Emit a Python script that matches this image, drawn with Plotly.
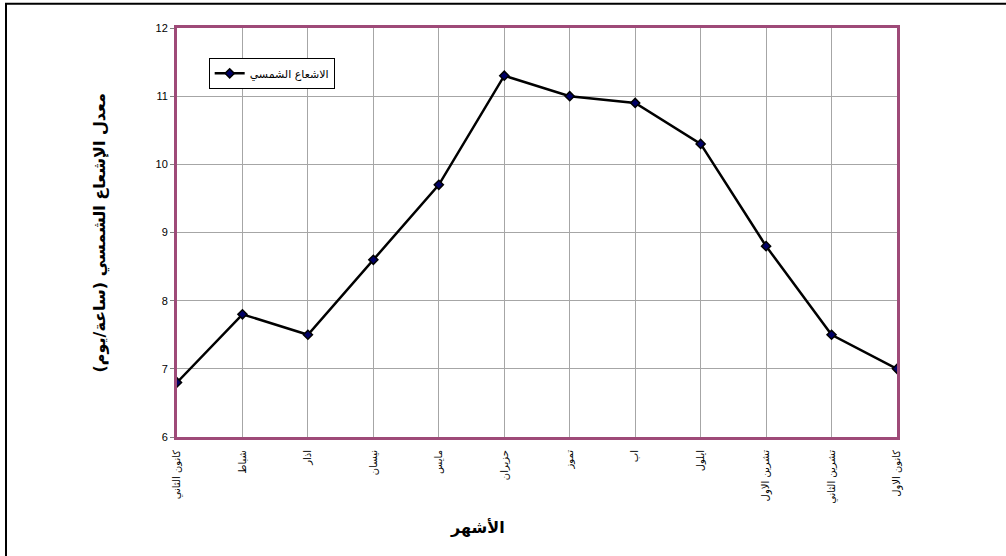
import plotly.graph_objects as go

# Monthly average sunshine duration (hours/day)
months = ["كانون الثاني", "شباط", "اذار", "نيسان", "مايس", "حزيران",
          "تموز", "اب", "ايلول", "تشرين الاول", "تشرين الثاني", "كانون الاول"]
sunshine = [6.8, 7.8, 7.5, 8.6, 9.7, 11.3, 11.0, 10.9, 10.3, 8.8, 7.5, 7.0]
y_ticks = [6, 7, 8, 9, 10, 11, 12]

series_name = "الاشعاع الشمسي"
x_title = "الأشهر"
y_title = "معدل الإشعاع الشمسي (ساعة/يوم)"

frame_color = "#9E4A78"
grid_color = "#A6A6A6"

fig = go.Figure()
fig.add_trace(go.Scatter(
    x=list(range(len(months))),
    y=sunshine,
    mode="lines+markers",
    name=series_name,
    line=dict(color="black", width=2.5),
    marker=dict(symbol="diamond", size=7, color="#000066",
                line=dict(color="black", width=1.5)),
))

fig.update_layout(
    width=1006, height=556,
    margin=dict(l=177, r=109, t=28, b=119),
    paper_bgcolor="white",
    plot_bgcolor="white",
    font=dict(family="DejaVu Sans, Arial, sans-serif", color="black", size=11),
    showlegend=True,
    legend=dict(
        x=0.044, y=0.927, xanchor="left", yanchor="top",
        bgcolor="white", bordercolor="black", borderwidth=1,
        font=dict(size=11, family="DejaVu Sans, Arial, sans-serif"),
        itemwidth=30,
    ),
    xaxis=dict(
        range=[0, len(months) - 1],
        tickmode="array",
        tickvals=list(range(len(months))),
        ticktext=months,
        tickangle=-90,
        ticklabelstandoff=6,
        showgrid=True, gridcolor=grid_color, gridwidth=1,
        showline=True, linecolor=frame_color, linewidth=3, mirror=True,
        ticks="", zeroline=False,
        tickfont=dict(size=10),
    ),
    yaxis=dict(
        range=[6, 12],
        tickmode="array",
        tickvals=y_ticks,
        showgrid=True, gridcolor=grid_color, gridwidth=1,
        showline=True, linecolor=frame_color, linewidth=3, mirror=True,
        ticks="outside", ticklen=4, tickcolor="#808080",
        zeroline=False,
        tickfont=dict(size=11, family="Arial, Liberation Sans, sans-serif"),
    ),
    annotations=[
        dict(text="<b>" + y_title + "</b>", xref="paper", yref="paper",
             x=-0.107, y=0.5, xanchor="center", yanchor="middle",
             textangle=-90, showarrow=False,
             font=dict(size=16, family="DejaVu Sans, Arial, sans-serif")),
        dict(text="<b>" + x_title + "</b>", xref="paper", yref="paper",
             x=0.418, y=-0.222, xanchor="center", yanchor="middle",
             showarrow=False,
             font=dict(size=16, family="DejaVu Sans, Arial, sans-serif")),
    ],
    shapes=[
        dict(type="rect", xref="paper", yref="paper",
             x0=-0.2375, x1=1.2, y0=-0.35, y1=1.059,
             line=dict(color="black", width=2), fillcolor="rgba(0,0,0,0)",
             layer="below"),
    ],
)

fig.write_html("out.html")
